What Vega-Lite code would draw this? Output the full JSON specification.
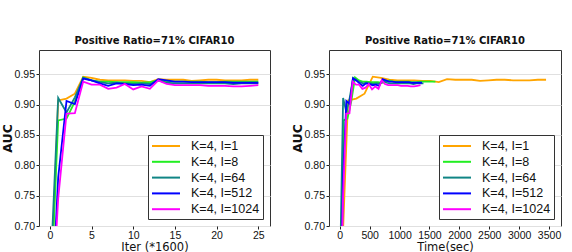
{
"$schema": "https://vega.github.io/schema/vega-lite/v6.json",
"padding": {"left": 0, "top": 35, "right": 0, "bottom": 0},
"background": "white",
"config": {
  "font": "DejaVu Sans",
  "view": {"stroke": "#333", "strokeWidth": 1},
  "axis": {"domain": false, "tickColor": "#222", "tickSize": 3, "labelColor": "#111", "labelFontSize": 10.5, "labelFont": "Liberation Sans", "titleFont": "DejaVu Sans", "titleColor": "#111", "titleFontSize": 11.5, "titleFontWeight": "normal", "labelPadding": 1.5, "titlePadding": 0},
  "axisY": {"gridColor": "#e0e0e0", "grid": true},
  "axisX": {"grid": false},
  "title": {"fontSize": 10, "fontWeight": "bold", "font": "DejaVu Sans", "color": "#111", "offset": 4},
  "legend": {"orient": "bottom-right", "offset": 7, "strokeColor": "#333", "fillColor": "white", "padding": 3, "symbolType": "M-1,0H3", "symbolSize": 196, "symbolStrokeWidth": 2, "symbolFillColor": "transparent", "labelFontSize": 12.5, "labelFont": "Liberation Sans", "labelColor": "#111", "rowPadding": 0.8, "labelOffset": 24, "title": null, "cornerRadius": 0}
},
"data": {"values": [
{"s":"K=4, I=1","it":0,"t":0,"auc":0.55},{"s":"K=4, I=1","it":1,"t":138,"auc":0.907},{"s":"K=4, I=1","it":2,"t":276,"auc":0.910},{"s":"K=4, I=1","it":3,"t":414,"auc":0.918},{"s":"K=4, I=1","it":4,"t":552,"auc":0.946},{"s":"K=4, I=1","it":5,"t":690,"auc":0.944},{"s":"K=4, I=1","it":6,"t":828,"auc":0.941},{"s":"K=4, I=1","it":7,"t":966,"auc":0.940},{"s":"K=4, I=1","it":8,"t":1104,"auc":0.940},{"s":"K=4, I=1","it":9,"t":1242,"auc":0.940},{"s":"K=4, I=1","it":10,"t":1380,"auc":0.939},{"s":"K=4, I=1","it":11,"t":1518,"auc":0.939},{"s":"K=4, I=1","it":12,"t":1656,"auc":0.937},{"s":"K=4, I=1","it":13,"t":1794,"auc":0.942},{"s":"K=4, I=1","it":14,"t":1932,"auc":0.941},{"s":"K=4, I=1","it":15,"t":2070,"auc":0.941},{"s":"K=4, I=1","it":16,"t":2208,"auc":0.941},{"s":"K=4, I=1","it":17,"t":2346,"auc":0.939},{"s":"K=4, I=1","it":18,"t":2484,"auc":0.940},{"s":"K=4, I=1","it":19,"t":2622,"auc":0.941},{"s":"K=4, I=1","it":20,"t":2760,"auc":0.941},{"s":"K=4, I=1","it":21,"t":2898,"auc":0.940},{"s":"K=4, I=1","it":22,"t":3036,"auc":0.940},{"s":"K=4, I=1","it":23,"t":3174,"auc":0.940},{"s":"K=4, I=1","it":24,"t":3312,"auc":0.941},{"s":"K=4, I=1","it":25,"t":3450,"auc":0.941},
{"s":"K=4, I=8","it":0,"t":0,"auc":0.55},{"s":"K=4, I=8","it":1,"t":64,"auc":0.874},{"s":"K=4, I=8","it":2,"t":128,"auc":0.877},{"s":"K=4, I=8","it":3,"t":192,"auc":0.905},{"s":"K=4, I=8","it":4,"t":256,"auc":0.945},{"s":"K=4, I=8","it":5,"t":320,"auc":0.940},{"s":"K=4, I=8","it":6,"t":384,"auc":0.938},{"s":"K=4, I=8","it":7,"t":448,"auc":0.938},{"s":"K=4, I=8","it":8,"t":512,"auc":0.937},{"s":"K=4, I=8","it":9,"t":576,"auc":0.937},{"s":"K=4, I=8","it":10,"t":640,"auc":0.937},{"s":"K=4, I=8","it":11,"t":704,"auc":0.936},{"s":"K=4, I=8","it":12,"t":768,"auc":0.937},{"s":"K=4, I=8","it":13,"t":832,"auc":0.940},{"s":"K=4, I=8","it":14,"t":896,"auc":0.938},{"s":"K=4, I=8","it":15,"t":960,"auc":0.938},{"s":"K=4, I=8","it":16,"t":1024,"auc":0.938},{"s":"K=4, I=8","it":17,"t":1088,"auc":0.938},{"s":"K=4, I=8","it":18,"t":1152,"auc":0.938},{"s":"K=4, I=8","it":19,"t":1216,"auc":0.937},{"s":"K=4, I=8","it":20,"t":1280,"auc":0.937},{"s":"K=4, I=8","it":21,"t":1344,"auc":0.938},{"s":"K=4, I=8","it":22,"t":1408,"auc":0.938},{"s":"K=4, I=8","it":23,"t":1472,"auc":0.938},{"s":"K=4, I=8","it":24,"t":1536,"auc":0.938},{"s":"K=4, I=8","it":25,"t":1600,"auc":0.938},
{"s":"K=4, I=64","it":0,"t":0,"auc":0.60},{"s":"K=4, I=64","it":1,"t":56,"auc":0.911},{"s":"K=4, I=64","it":2,"t":112,"auc":0.887},{"s":"K=4, I=64","it":3,"t":168,"auc":0.912},{"s":"K=4, I=64","it":4,"t":224,"auc":0.944},{"s":"K=4, I=64","it":5,"t":280,"auc":0.940},{"s":"K=4, I=64","it":6,"t":336,"auc":0.937},{"s":"K=4, I=64","it":7,"t":392,"auc":0.935},{"s":"K=4, I=64","it":8,"t":448,"auc":0.936},{"s":"K=4, I=64","it":9,"t":504,"auc":0.935},{"s":"K=4, I=64","it":10,"t":560,"auc":0.934},{"s":"K=4, I=64","it":11,"t":616,"auc":0.935},{"s":"K=4, I=64","it":12,"t":672,"auc":0.934},{"s":"K=4, I=64","it":13,"t":728,"auc":0.940},{"s":"K=4, I=64","it":14,"t":784,"auc":0.936},{"s":"K=4, I=64","it":15,"t":840,"auc":0.935},{"s":"K=4, I=64","it":16,"t":896,"auc":0.935},{"s":"K=4, I=64","it":17,"t":952,"auc":0.935},{"s":"K=4, I=64","it":18,"t":1008,"auc":0.935},{"s":"K=4, I=64","it":19,"t":1064,"auc":0.935},{"s":"K=4, I=64","it":20,"t":1120,"auc":0.935},{"s":"K=4, I=64","it":21,"t":1176,"auc":0.935},{"s":"K=4, I=64","it":22,"t":1232,"auc":0.934},{"s":"K=4, I=64","it":23,"t":1288,"auc":0.935},{"s":"K=4, I=64","it":24,"t":1344,"auc":0.935},{"s":"K=4, I=64","it":25,"t":1400,"auc":0.935},
{"s":"K=4, I=512","it":0,"t":0,"auc":0.50},{"s":"K=4, I=512","it":1,"t":55,"auc":0.780},{"s":"K=4, I=512","it":2,"t":110,"auc":0.906},{"s":"K=4, I=512","it":3,"t":165,"auc":0.901},{"s":"K=4, I=512","it":4,"t":220,"auc":0.943},{"s":"K=4, I=512","it":5,"t":275,"auc":0.940},{"s":"K=4, I=512","it":6,"t":330,"auc":0.935},{"s":"K=4, I=512","it":7,"t":385,"auc":0.931},{"s":"K=4, I=512","it":8,"t":440,"auc":0.935},{"s":"K=4, I=512","it":9,"t":495,"auc":0.934},{"s":"K=4, I=512","it":10,"t":550,"auc":0.932},{"s":"K=4, I=512","it":11,"t":605,"auc":0.933},{"s":"K=4, I=512","it":12,"t":660,"auc":0.931},{"s":"K=4, I=512","it":13,"t":715,"auc":0.942},{"s":"K=4, I=512","it":14,"t":770,"auc":0.940},{"s":"K=4, I=512","it":15,"t":825,"auc":0.938},{"s":"K=4, I=512","it":16,"t":880,"auc":0.938},{"s":"K=4, I=512","it":17,"t":935,"auc":0.937},{"s":"K=4, I=512","it":18,"t":990,"auc":0.937},{"s":"K=4, I=512","it":19,"t":1045,"auc":0.937},{"s":"K=4, I=512","it":20,"t":1100,"auc":0.937},{"s":"K=4, I=512","it":21,"t":1155,"auc":0.937},{"s":"K=4, I=512","it":22,"t":1210,"auc":0.936},{"s":"K=4, I=512","it":23,"t":1265,"auc":0.936},{"s":"K=4, I=512","it":24,"t":1320,"auc":0.936},{"s":"K=4, I=512","it":25,"t":1375,"auc":0.936},
{"s":"K=4, I=1024","it":0,"t":0,"auc":0.50},{"s":"K=4, I=1024","it":1,"t":54,"auc":0.745},{"s":"K=4, I=1024","it":2,"t":108,"auc":0.885},{"s":"K=4, I=1024","it":3,"t":162,"auc":0.886},{"s":"K=4, I=1024","it":4,"t":216,"auc":0.938},{"s":"K=4, I=1024","it":5,"t":270,"auc":0.933},{"s":"K=4, I=1024","it":6,"t":324,"auc":0.933},{"s":"K=4, I=1024","it":7,"t":378,"auc":0.926},{"s":"K=4, I=1024","it":8,"t":432,"auc":0.928},{"s":"K=4, I=1024","it":9,"t":486,"auc":0.934},{"s":"K=4, I=1024","it":10,"t":540,"auc":0.925},{"s":"K=4, I=1024","it":11,"t":594,"auc":0.930},{"s":"K=4, I=1024","it":12,"t":648,"auc":0.926},{"s":"K=4, I=1024","it":13,"t":702,"auc":0.940},{"s":"K=4, I=1024","it":14,"t":756,"auc":0.934},{"s":"K=4, I=1024","it":15,"t":810,"auc":0.932},{"s":"K=4, I=1024","it":16,"t":864,"auc":0.932},{"s":"K=4, I=1024","it":17,"t":918,"auc":0.932},{"s":"K=4, I=1024","it":18,"t":972,"auc":0.932},{"s":"K=4, I=1024","it":19,"t":1026,"auc":0.931},{"s":"K=4, I=1024","it":20,"t":1080,"auc":0.931},{"s":"K=4, I=1024","it":21,"t":1134,"auc":0.931},{"s":"K=4, I=1024","it":22,"t":1188,"auc":0.930},{"s":"K=4, I=1024","it":23,"t":1242,"auc":0.930},{"s":"K=4, I=1024","it":24,"t":1296,"auc":0.931},{"s":"K=4, I=1024","it":25,"t":1350,"auc":0.932}
]},
"spacing": 19,
"resolve": {"legend": {"color": "independent"}},
"hconcat": [
 {
  "width": 231, "height": 176,
  "title": "Positive Ratio=71% CIFAR10",
  "mark": {"type": "line", "clip": true, "strokeWidth": 1.8},
  "encoding": {
   "x": {"field": "it", "type": "quantitative", "scale": {"domain": [-1.3, 26.4], "nice": false, "zero": false}, "axis": {"values": [0, 5, 10, 15, 20, 25], "format": "d", "title": "Iter (*1600)"}},
   "y": {"field": "auc", "type": "quantitative", "scale": {"domain": [0.70, 0.99], "nice": false, "zero": false}, "axis": {"values": [0.70, 0.75, 0.80, 0.85, 0.90, 0.95], "format": ".2f", "title": "AUC", "titleFontWeight": "bold", "titleFontSize": 12.5}},
   "color": {"field": "s", "type": "nominal", "scale": {"domain": ["K=4, I=1", "K=4, I=8", "K=4, I=64", "K=4, I=512", "K=4, I=1024"], "range": ["#FFA500", "#22EE22", "#108585", "#0000FF", "#FF00FF"]}, "legend": {"title": null}}
  }
 },
 {
  "width": 232, "height": 176,
  "title": "Positive Ratio=71% CIFAR10",
  "mark": {"type": "line", "clip": true, "strokeWidth": 1.8},
  "encoding": {
   "x": {"field": "t", "type": "quantitative", "scale": {"domain": [-180, 3700], "nice": false, "zero": false}, "axis": {"values": [0, 500, 1000, 1500, 2000, 2500, 3000, 3500], "format": "d", "title": "Time(sec)"}},
   "y": {"field": "auc", "type": "quantitative", "scale": {"domain": [0.70, 0.99], "nice": false, "zero": false}, "axis": {"values": [0.70, 0.75, 0.80, 0.85, 0.90, 0.95], "format": ".2f", "title": "AUC", "titleFontWeight": "bold", "titleFontSize": 12.5}},
   "color": {"field": "s", "type": "nominal", "scale": {"domain": ["K=4, I=1", "K=4, I=8", "K=4, I=64", "K=4, I=512", "K=4, I=1024"], "range": ["#FFA500", "#22EE22", "#108585", "#0000FF", "#FF00FF"]}, "legend": {"title": null}}
  }
 }
]
}
